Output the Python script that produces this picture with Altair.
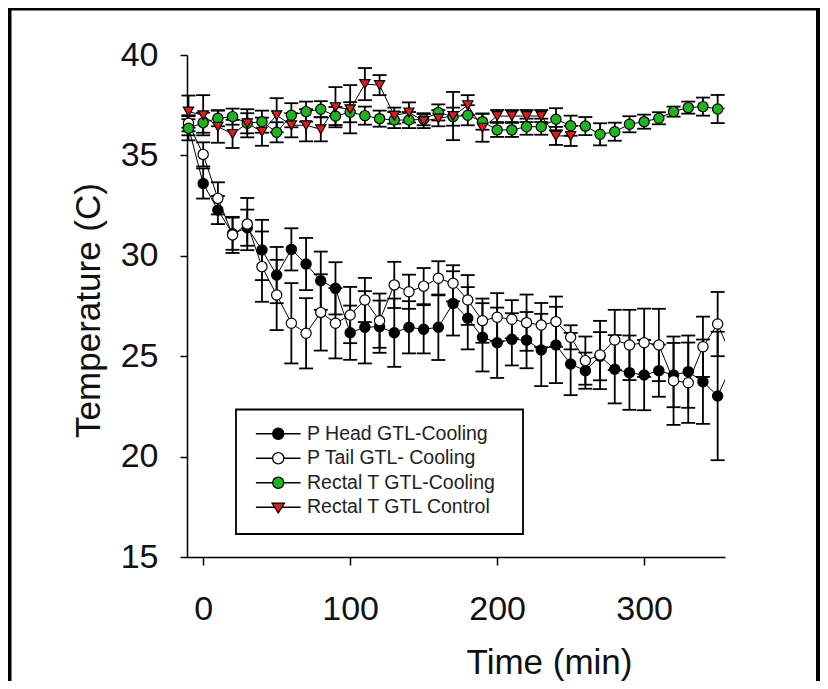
import altair as alt
import pandas as pd

SERIES = ["P Head GTL-Cooling", "P Tail GTL- Cooling", "Rectal T GTL-Cooling", "Rectal T GTL Control"]
COLORS = ["#000000", "#ffffff", "#1cb51c", "#e3191c"]
SHAPES = ["circle", "circle", "circle", "triangle-down"]
SIZES = [105, 105, 105, 150]

time_full = [-10, 0, 10, 20, 30, 40, 50, 60, 70, 80, 90, 100, 110, 120, 130, 140, 150, 160, 170,
             180, 190, 200, 210, 220, 230, 240, 250, 260, 270, 280, 290, 300, 310, 320, 330, 340,
             350, 360]
time_ctrl = [-10, 0, 10, 20, 30, 40, 50, 60, 70, 80, 90, 100, 110, 120, 130, 140, 150, 160, 170,
             180, 190, 200, 210, 220, 230, 240, 250]

head_mean = [36.4, 33.6, 32.28, 31.1, 31.4, 30.29, 29.04, 30.32, 29.59, 28.76, 28.38, 26.17, 26.44,
             26.47, 26.17, 26.44, 26.34, 26.44, 27.63, 26.89, 25.94, 25.67, 25.84, 25.8, 25.31,
             25.56, 24.61, 24.28, 25.0, 24.35, 24.18, 24.06, 24.28, 24.06, 24.23, 23.73, 23.02, 24.6]
head_err = [0.4, 0.75, 0.7, 0.8, 0.9, 1.5, 1.4, 1.05, 1.3, 1.45, 1.3, 1.35, 1.8, 1.3, 1.7, 1.3, 1.2,
            1.63, 1.6, 1.55, 1.7, 1.75, 1.3, 1.4, 1.8, 1.9, 1.55, 0.9, 1.2, 1.7, 1.85, 1.75, 1.3,
            1.6, 1.8, 2.1, 3.2, 2.5]

tail_mean = [36.6, 35.05, 32.86, 31.04, 31.58, 29.46, 28.05, 26.64, 26.14, 27.18, 26.64, 27.05, 27.8,
             26.77, 28.55, 28.21, 28.49, 28.88, 28.63, 27.8, 26.77, 26.94, 26.84, 26.67, 26.55,
             26.72, 25.94, 24.78, 25.06, 25.81, 25.56, 25.67, 25.56, 23.78, 23.68, 25.47, 26.6, 24.9]
tail_err = [0.4, 0.6, 0.8, 0.9, 1.3, 1.75, 1.75, 2.0, 1.75, 1.9, 1.75, 1.4, 1.1, 1.35, 1.15, 0.85, 0.9,
            0.85, 0.9, 1.24, 1.1, 1.2, 0.95, 1.4, 1.1, 1.25, 0.6, 1.2, 1.7, 1.5, 1.75, 1.7, 1.8,
            2.2, 2.0, 1.5, 1.6, 2.1]

rect_cool_mean = [36.35, 36.63, 36.85, 36.93, 36.6, 36.68, 36.15, 37.0, 37.18, 37.3, 36.96, 37.15,
                  36.98, 36.83, 36.76, 36.76, 36.8, 37.14, 36.93, 37.0, 36.68, 36.27, 36.27, 36.43,
                  36.43, 36.8, 36.48, 36.46, 36.05, 36.18, 36.55, 36.68, 36.85, 37.18, 37.38, 37.43,
                  37.31, 37.4]
rect_cool_err = [0.6, 0.5, 0.4, 0.4, 0.5, 0.55, 0.5, 0.6, 0.5, 0.4, 0.45, 0.5, 0.45, 0.4, 0.4, 0.4,
                 0.3, 0.4, 0.45, 0.5, 0.4, 0.35, 0.35, 0.4, 0.4, 0.55, 0.5, 0.45, 0.55, 0.45, 0.4,
                 0.35, 0.3, 0.25, 0.3, 0.45, 0.7, 1.2]

rect_ctrl_mean = [37.18, 37.0, 36.43, 36.07, 36.6, 36.18, 37.0, 36.5, 36.5, 36.3, 37.4, 37.3, 38.55,
                  38.5, 36.98, 37.14, 36.71, 36.85, 36.96, 37.5, 36.38, 36.96, 36.96, 36.96, 36.96,
                  35.97, 35.97]
rect_ctrl_err = [0.8, 1.0, 0.8, 0.7, 0.7, 0.7, 0.85, 0.6, 0.8, 0.6, 1.0, 1.2, 0.8, 0.5, 0.4, 0.5, 0.35,
                 0.4, 1.2, 0.5, 0.7, 0.3, 0.3, 0.3, 0.3, 0.45, 0.5]

rows = []
for name, ts, ms, es in [
    (SERIES[0], time_full, head_mean, head_err),
    (SERIES[1], time_full, tail_mean, tail_err),
    (SERIES[2], time_full, rect_cool_mean, rect_cool_err),
    (SERIES[3], time_ctrl, rect_ctrl_mean, rect_ctrl_err),
]:
    for t, m, e in zip(ts, ms, es):
        rows.append({"series": name, "t": t, "v": m, "lo": m - e, "hi": m + e})
df = pd.DataFrame(rows)
one = pd.DataFrame({"k": [0]})

FONT = "Liberation Sans"
W, H = 538, 502

xs = alt.Scale(domain=[-11, 355], nice=False, zero=False)
ys = alt.Scale(domain=[15, 40], nice=False, zero=False)

x_axis = alt.Axis(values=[0, 100, 200, 300], title="Time (min)", grid=False,
                  titleX=362, titleY=116, titleAlign="center", titleBaseline="alphabetic",
                  titleFontSize=35, titleFont=FONT, titleFontWeight="normal", titleColor="#111",
                  labelFontSize=34, labelFont=FONT, labelColor="#111", labelBaseline="alphabetic",
                  labelPadding=54, labelFlush=False, tickSize=8, tickWidth=1.5, tickColor="black",
                  domainColor="black", domainWidth=1.5)
y_axis = alt.Axis(values=[15, 20, 25, 30, 35, 40], title="Temperature (C)", grid=False,
                  titleX=-99, titleY=255, titleAngle=270, titleAlign="center", titleBaseline="middle",
                  titleFontSize=35, titleFont=FONT, titleFontWeight="normal", titleColor="#111",
                  labelFontSize=34, labelFont=FONT, labelColor="#111", labelBaseline="middle",
                  labelPadding=22, labelFlush=False, tickSize=7, tickWidth=1.5, tickColor="black",
                  domainColor="black", domainWidth=1.5)

X = alt.X("t:Q", scale=xs, axis=x_axis)
Y = alt.Y("v:Q", scale=ys, axis=y_axis)

# legend symbols: short line with the marker in the middle
CIRC = "M-4,0L-1,0M1,0L4,0M1,0A1,1,0,1,1,-1,0A1,1,0,1,1,1,0Z"
TRI = "M-4,0L-0.6,0M0.6,0L4,0M-1.1,-0.75L1.1,-0.75L0,1.05Z"
LEGEND_SHAPES = [CIRC, CIRC, CIRC, TRI]
LEGEND_STROKES = ["#000000", "#000000", "#000000", "#000000"]

legend = alt.Legend(
    orient="none", legendX=81.5, legendY=369, title=None,
    symbolSize=125, symbolStrokeWidth=1.3,
    labelFont=FONT, labelFontSize=19.5, labelColor="#222", labelOffset=19, labelLimit=0,
    rowPadding=3.5, padding=0,
)

base = alt.Chart(df)

frame_top = alt.Chart(one).mark_rule(color="black", strokeWidth=4, clip=False).encode(
    x=alt.value(-180), x2=alt.value(640), y=alt.value(-46.5))
frame_left = alt.Chart(one).mark_rule(color="black", strokeWidth=4, clip=False).encode(
    x=alt.value(-177.5), y=alt.value(-50), y2=alt.value(640))
frame_right = alt.Chart(one).mark_rule(color="black", strokeWidth=4, clip=False).encode(
    x=alt.value(631), y=alt.value(-50), y2=alt.value(640))

legend_box = alt.Chart(one).mark_rect(fill="white", stroke="black", strokeWidth=1.8).encode(
    x=alt.value(49), x2=alt.value(336), y=alt.value(354.5), y2=alt.value(479))

main = "datum.t <= 350"
edge = "datum.t > 350"

bars = base.transform_filter(main).mark_rule(color="black", strokeWidth=1.8).encode(
    x=X, y=alt.Y("lo:Q", scale=ys, axis=y_axis), y2="hi:Q")
cap_lo = base.transform_filter(main).mark_tick(orient="horizontal", size=14, thickness=1.8,
                                               color="black", opacity=1).encode(
    x=X, y=alt.Y("lo:Q", scale=ys, axis=y_axis))
cap_hi = base.transform_filter(main).mark_tick(orient="horizontal", size=14, thickness=1.8,
                                               color="black", opacity=1).encode(
    x=X, y=alt.Y("hi:Q", scale=ys, axis=y_axis))
bars_e = base.transform_filter(edge).mark_rule(color="black", strokeWidth=1.8, clip=True).encode(
    x=X, y=alt.Y("lo:Q", scale=ys, axis=y_axis), y2="hi:Q")
cap_lo_e = base.transform_filter(edge).mark_tick(orient="horizontal", size=14, thickness=1.8,
                                                 color="black", opacity=1, clip=True).encode(
    x=X, y=alt.Y("lo:Q", scale=ys, axis=y_axis))
cap_hi_e = base.transform_filter(edge).mark_tick(orient="horizontal", size=14, thickness=1.8,
                                                 color="black", opacity=1, clip=True).encode(
    x=X, y=alt.Y("hi:Q", scale=ys, axis=y_axis))

lines = base.mark_line(color="black", strokeWidth=1, clip=True).encode(
    x=X, y=Y, detail="series:N", order=alt.Order("t:Q"))

points = base.transform_filter(main).mark_point(
    filled=True, stroke="black", strokeWidth=1.2, opacity=1).encode(
    x=X, y=Y,
    fill=alt.Fill("series:N", scale=alt.Scale(domain=SERIES, range=COLORS), legend=None),
    shape=alt.Shape("series:N", scale=alt.Scale(domain=SERIES, range=SHAPES), legend=None),
    size=alt.Size("series:N", scale=alt.Scale(domain=SERIES, range=SIZES), legend=None),
)

# legend-only layer (no marks drawn): its own scales give line+marker symbols
legend_layer = base.transform_filter("false").mark_point(
    filled=False, size=100, opacity=1, strokeWidth=1.3).encode(
    x=X, y=Y,
    fill=alt.Fill("series:N", scale=alt.Scale(domain=SERIES, range=COLORS), legend=legend),
    shape=alt.Shape("series:N", scale=alt.Scale(domain=SERIES, range=LEGEND_SHAPES), legend=legend),
    stroke=alt.Stroke("series:N", scale=alt.Scale(domain=SERIES, range=LEGEND_STROKES), legend=legend),
)

chart = alt.layer(
    frame_top, frame_left, frame_right, legend_box,
    bars, cap_lo, cap_hi, bars_e, cap_lo_e, cap_hi_e, lines, points, legend_layer,
).resolve_scale(
    fill="independent", shape="independent", stroke="independent", size="independent"
).properties(
    width=W, height=H,
    autosize=alt.AutoSizeParams(type="none"),
    padding={"left": 179, "top": 47, "right": 95, "bottom": 124},
    background="white",
).configure_view(stroke=None)

chart.save("out.html", embed_options={"renderer": "svg", "actions": False})
